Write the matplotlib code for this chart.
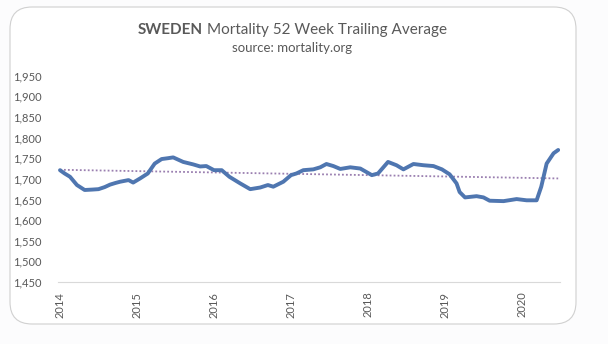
import matplotlib.pyplot as plt
from matplotlib.patches import FancyBboxPatch
from matplotlib.transforms import IdentityTransform
from matplotlib.ticker import FuncFormatter

# weekly deaths, 52 week trailing average (read at turning points)
years = [2014.00, 2014.06, 2014.13, 2014.22, 2014.32, 2014.42, 2014.50, 2014.58,
         2014.65, 2014.72, 2014.78, 2014.89, 2014.95, 2015.04, 2015.14, 2015.23,
         2015.32, 2015.40, 2015.47, 2015.60, 2015.73, 2015.82, 2015.90, 2016.00,
         2016.10, 2016.20, 2016.34, 2016.47, 2016.60, 2016.70, 2016.77, 2016.90,
         2017.00, 2017.07, 2017.16, 2017.29, 2017.38, 2017.46, 2017.55, 2017.64,
         2017.77, 2017.90, 2018.05, 2018.13, 2018.26, 2018.37, 2018.46, 2018.59,
         2018.72, 2018.85, 2018.96, 2019.06, 2019.15, 2019.19, 2019.26, 2019.41,
         2019.50, 2019.58, 2019.76, 2019.93, 2020.06, 2020.19, 2020.25, 2020.32,
         2020.41, 2020.47]
deaths = [1721, 1713, 1705, 1685, 1673, 1674, 1675, 1680,
          1686, 1690, 1693, 1697, 1691, 1701, 1713, 1737,
          1748, 1750, 1752, 1741, 1735, 1730, 1731, 1721,
          1721, 1705, 1689, 1675, 1679, 1685, 1681, 1693,
          1709, 1713, 1721, 1723, 1728, 1736, 1731, 1724,
          1728, 1725, 1709, 1713, 1741, 1733, 1723, 1736,
          1733, 1731, 1723, 1711, 1689, 1668, 1655, 1658,
          1655, 1647, 1646, 1651, 1648, 1648, 1681, 1737,
          1762, 1770]
trend_x = [2014.00, 2020.47]
trend_y = [1722, 1701]
year_ticks = [2014, 2015, 2016, 2017, 2018, 2019, 2020]
y_ticks = list(range(1450, 2000, 50))

plt.rcParams['font.family'] = ['Lato', 'DejaVu Sans']
grey = '#595959'

fig = plt.figure(figsize=(6.08, 3.44), dpi=100)
fig.patch.set_facecolor('#fcfcfd')

# rounded chart frame, in pixels, kept behind the axes
frame = FancyBboxPatch((10, 20), 566, 317, boxstyle='round,pad=0,rounding_size=22',
                       transform=IdentityTransform(), facecolor='white',
                       edgecolor='#d0d0d0', linewidth=0.8, zorder=-5)
fig.patches.append(frame)

ax = fig.add_axes([58 / 608, 1 - 282 / 344, 502 / 608, (282 - 75.7) / 344])
ax.set_facecolor('none')
ax.plot(trend_x, trend_y, color='#9a7fb0', linestyle=(0, (1, 1.2)), linewidth=1.3)
ax.plot(years, deaths, color='#4f76b0', linewidth=2.8, solid_capstyle='round',
        solid_joinstyle='round')

ax.set_xlim(2014 - 2 / 77, 2014 + 500 / 77)
ax.set_ylim(1450, 1950)
ax.set_yticks(y_ticks)
ax.yaxis.set_major_formatter(FuncFormatter(lambda v, p: f'{int(v):,}'))
ax.set_xticks(year_ticks)
ax.set_xticklabels([str(y) for y in year_ticks], rotation=90)
ax.tick_params(axis='both', length=0, colors=grey, labelsize=8)
ax.tick_params(axis='y', pad=12)
ax.tick_params(axis='x', pad=7)
for side in ['top', 'right', 'left']:
    ax.spines[side].set_visible(False)
ax.spines['bottom'].set_color('#d9d9d9')
ax.spines['bottom'].set_linewidth(0.8)

# title: bold country name followed by regular text, centred as one line
cx, ty = 292 / 608, 1 - 30 / 344
t1 = fig.text(0, ty, 'SWEDEN', ha='left', va='center', fontsize=11,
              fontweight='bold', color=grey)
t2 = fig.text(0, ty, 'Mortality 52 Week Trailing Average', ha='left',
              va='center', fontsize=11, color=grey)
r = fig.canvas.get_renderer()
w1 = t1.get_window_extent(r).width / fig.bbox.width
w2 = t2.get_window_extent(r).width / fig.bbox.width
gap = 4 / 608
x0 = cx - (w1 + gap + w2) / 2
t1.set_x(x0)
t2.set_x(x0 + w1 + gap)
fig.text(cx, 1 - 48 / 344, 'source: mortality.org', ha='center', va='center',
         fontsize=9.5, color=grey)

fig.savefig('out.png', dpi=100, facecolor=fig.get_facecolor())
